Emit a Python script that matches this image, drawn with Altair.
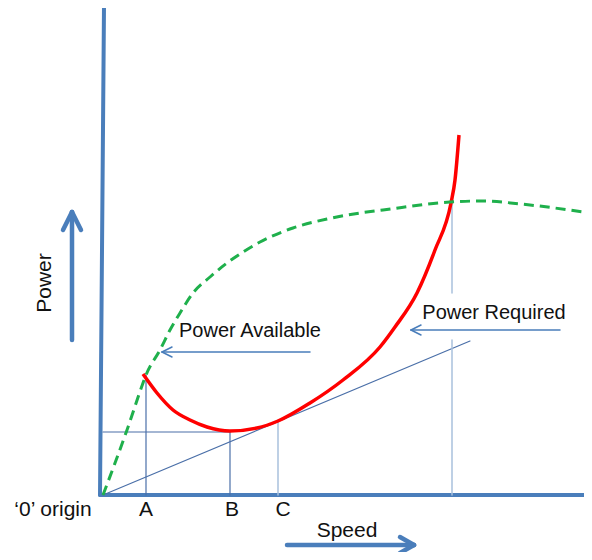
import altair as alt
import pandas as pd

# Units: speed / power in arbitrary diagram units (origin = '0' origin)
avail_speed = [3, 27, 43, 46, 60, 70, 80, 93, 110, 127, 143, 160, 193, 227, 260, 283, 350, 380, 430, 483]
avail_power = [0, 65, 112, 120, 145, 165, 182, 202, 218, 232, 243, 253, 267, 276, 282, 285, 293, 294, 290, 283]

req_speed = [43, 57, 73, 90, 107, 130, 157, 178, 210, 243, 280, 295, 317, 335, 351, 355, 359]
req_power = [121, 102, 85, 75, 68, 64, 67, 74, 92, 115, 148, 168, 202, 245, 292, 315, 360]

# straight segments: x, y, x2, y2, colour, width
AX = "#4a7ebb"
DK = "#4a6fa8"
LT = "#a9c0dc"
seg_x  = [4,   0,   3,   46,  130, 178, 352, 352, 3,   210, 62,  62,  460, 311, 311, -28, -28, -28, 187, 314, 314]
seg_y  = [489, 0,   0,   0,   0,   0,   0,   202, 63,  143, 143, 143, 165, 165, 165, 155, 283, 283, -50, -50, -50]
seg_x2 = [0,   492, 370, 46,  130, 178, 352, 352, 130, 62,  72,  72,  311, 321, 321, -28, -37, -19, 314, 300, 300]
seg_y2 = [0,   0,   154, 120, 64,  75,  155, 292, 63,  143, 148, 138, 165, 170, 160, 283, 265, 265, -50, -42, -58]
seg_c  = [AX,  AX,  DK,  DK,  DK,  LT,  LT,  LT,  DK,  AX,  AX,  AX,  AX,  AX,  AX,  AX,  AX,  AX,  AX,  AX,  AX]
seg_w  = [4,   4,   1.2, 1.2, 1.2, 1.5, 1.5, 1.5, 1.2, 1.5, 1.5, 1.5, 1.5, 1.5, 1.5, 4.5, 4.5, 4.5, 4.5, 4.5, 4.5]

labels  = ["Power Available", "Power Required", "Speed", "\u20180\u2019 origin", "A", "B", "C"]
label_x = [150, 394, 247, -47, 46, 132, 183]
label_y = [158, 176, -42, -21, -21, -21, -21]
label_s = [20, 20, 21, 21, 21, 21, 21]

xs = alt.Scale(domain=[-92, 484], nice=False, zero=False)
ys = alt.Scale(domain=[-57, 487], nice=False, zero=False)

seg_df = pd.DataFrame({"x": seg_x, "y": seg_y, "x2": seg_x2, "y2": seg_y2, "c": seg_c, "w": seg_w})
avail_df = pd.DataFrame({"x": avail_speed, "y": avail_power})
req_df = pd.DataFrame({"x": req_speed, "y": req_power})
lab_df = pd.DataFrame({"t": labels, "x": label_x, "y": label_y, "s": label_s})
pw_df = pd.DataFrame({"t": ["Power"], "x": [-55], "y": [212]})

segs = alt.Chart(seg_df).mark_rule(strokeCap="round", clip=True).encode(
    x=alt.X("x:Q", scale=xs, axis=None),
    y=alt.Y("y:Q", scale=ys, axis=None),
    x2="x2:Q", y2="y2:Q",
    color=alt.Color("c:N", scale=None),
    strokeWidth=alt.StrokeWidth("w:Q", scale=None),
)

avail = alt.Chart(avail_df).mark_line(
    color="#1fb04c", strokeWidth=3, strokeDash=[10, 6], interpolate="monotone", clip=True
).encode(x=alt.X("x:Q", scale=xs, axis=None), y=alt.Y("y:Q", scale=ys, axis=None))

req = alt.Chart(req_df).mark_line(
    color="#ff0000", strokeWidth=3.5, interpolate="monotone", clip=True
).encode(x=alt.X("x:Q", scale=xs, axis=None), y=alt.Y("y:Q", scale=ys, axis=None))

texts = alt.Chart(lab_df).mark_text(
    font="Liberation Sans", color="#111111", align="center", baseline="alphabetic"
).encode(
    x=alt.X("x:Q", scale=xs, axis=None), y=alt.Y("y:Q", scale=ys, axis=None),
    text="t:N", size=alt.Size("s:Q", scale=None),
)

ptext = alt.Chart(pw_df).mark_text(
    font="Liberation Sans", color="#111111", align="center", baseline="middle",
    angle=270, fontSize=21
).encode(x=alt.X("x:Q", scale=xs, axis=None), y=alt.Y("y:Q", scale=ys, axis=None), text="t:N")

chart = alt.layer(segs, req, avail, texts, ptext).properties(
    width=576, height=544, padding=0, autosize=alt.AutoSizeParams(type="none")
).configure_view(stroke=None)

chart.save("out.html", embed_options={"renderer": "svg", "actions": False})
